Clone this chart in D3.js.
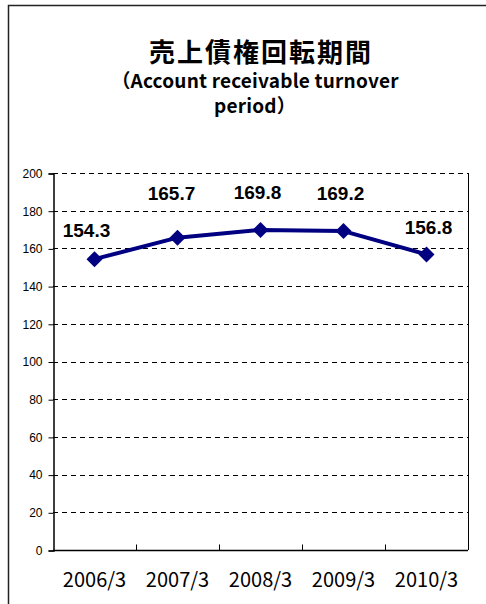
<!DOCTYPE html>
<html>
<head>
<meta charset="utf-8">
<script src="https://cdn.jsdelivr.net/npm/d3@7"></script>
<style>
  body { margin: 0; background: #fff; }
  svg { display: block; }
</style>
</head>
<body>
<svg id="chart"></svg>
<script>
const categories = ["2006/3", "2007/3", "2008/3", "2009/3", "2010/3"];
const values = [154.3, 165.7, 169.8, 169.2, 156.8];
const yTicks = [0, 20, 40, 60, 80, 100, 120, 140, 160, 180, 200];
// label nudges (px) so the data labels sit where the original put them
const labelDx = [-8, -6, -3, -3, 2];
const labelDy = [22, 38, 31, 31, 20];

const width = 486;
const height = 604;
const margin = { top: 173, right: 18, bottom: 54, left: 53 };

const svg = d3.select("#chart").attr("width", width).attr("height", height);

// outer chart frame (runs off the right and bottom edges)
svg.append("path")
  .attr("d", `M8.5,${height + 2} V5.5 H${width + 2}`)
  .attr("fill", "none")
  .attr("stroke", "#222")
  .attr("stroke-width", 1.5);

// titles
svg.append("text")
  .attr("x", 261).attr("y", 62)
  .attr("text-anchor", "middle")
  .style("font-family", "'Noto Sans CJK JP', sans-serif")
  .style("font-weight", "bold")
  .style("font-size", "26px")
  .style("letter-spacing", "2px")
  .text("売上債権回転期間");

svg.append("text")
  .attr("x", 255).attr("y", 88)
  .attr("text-anchor", "middle")
  .style("font-family", "'Noto Sans CJK JP', sans-serif")
  .style("font-weight", "bold")
  .style("font-size", "19px")
  .style("letter-spacing", "0.2px")
  .text("（Account receivable turnover");

svg.append("text")
  .attr("x", 255).attr("y", 113)
  .attr("text-anchor", "middle")
  .style("font-family", "'Noto Sans CJK JP', sans-serif")
  .style("font-weight", "bold")
  .style("font-size", "19px")
  .style("letter-spacing", "0.2px")
  .text("period）");

const x = d3.scaleBand()
  .domain(categories)
  .range([margin.left, width - margin.right]);

const y = d3.scaleLinear()
  .domain([0, 200])
  .range([height - margin.bottom, margin.top]);

// dashed gridlines
svg.append("g")
  .selectAll("line")
  .data(yTicks.filter((d) => d > 0))
  .join("line")
  .attr("x1", margin.left)
  .attr("x2", width - margin.right)
  .attr("y1", (d) => Math.round(y(d)) + 0.5)
  .attr("y2", (d) => Math.round(y(d)) + 0.5)
  .attr("stroke", "#000")
  .attr("stroke-width", 1)
  .attr("stroke-dasharray", "5,4");

// right border of plot area
svg.append("line")
  .attr("x1", width - margin.right + 0.5)
  .attr("x2", width - margin.right + 0.5)
  .attr("y1", margin.top)
  .attr("y2", height - margin.bottom)
  .attr("stroke", "#000");

// y axis
const yAxis = svg.append("g")
  .attr("transform", `translate(${margin.left + 0.5},0.5)`)
  .call(d3.axisLeft(y).tickValues(yTicks).tickSize(5).tickPadding(6));
yAxis.select(".domain").attr("stroke-width", 1.5);
yAxis.selectAll("text")
  .style("font-family", "'Liberation Sans', Arial, sans-serif")
  .style("font-size", "12px")
  .attr("fill", "#000");

// x axis: ticks between categories
const xAxis = svg.append("g")
  .attr("transform", `translate(0,${height - margin.bottom + 0.5})`);
xAxis.append("line")
  .attr("x1", margin.left)
  .attr("x2", width - margin.right)
  .attr("stroke", "#000")
  .attr("stroke-width", 1.5);
xAxis.selectAll(".tick")
  .data(categories.slice(1))
  .join("line")
  .attr("x1", (d) => Math.round(x(d)) + 0.5)
  .attr("x2", (d) => Math.round(x(d)) + 0.5)
  .attr("y1", 0)
  .attr("y2", -6)
  .attr("stroke", "#000");
xAxis.selectAll("text")
  .data(categories)
  .join("text")
  .attr("x", (d) => x(d) + x.bandwidth() / 2)
  .attr("y", 36.5)
  .attr("text-anchor", "middle")
  .style("font-family", "'Noto Sans CJK JP', sans-serif")
  .style("font-size", "20px")
  .text((d) => d);

const cxOf = (i) => x(categories[i]) + x.bandwidth() / 2;

// line
svg.append("path")
  .datum(values)
  .attr("fill", "none")
  .attr("stroke", "#000080")
  .attr("stroke-width", 4)
  .attr("stroke-linejoin", "round")
  .attr("d", d3.line().x((d, i) => cxOf(i)).y((d) => y(d)));

// diamond markers
svg.append("g")
  .selectAll("path")
  .data(values)
  .join("path")
  .attr("transform", (d, i) => `translate(${cxOf(i)},${y(d)})`)
  .attr("d", "M0,-8 L8,0 L0,8 L-8,0 Z")
  .attr("fill", "#000080");

// value labels
svg.append("g")
  .selectAll("text")
  .data(values)
  .join("text")
  .attr("x", (d, i) => cxOf(i) + labelDx[i])
  .attr("y", (d, i) => y(d) - labelDy[i])
  .attr("text-anchor", "middle")
  .style("font-family", "'Liberation Sans', Arial, sans-serif")
  .style("font-weight", "bold")
  .style("font-size", "19px")
  .text((d) => d.toFixed(1));
</script>
</body>
</html>
